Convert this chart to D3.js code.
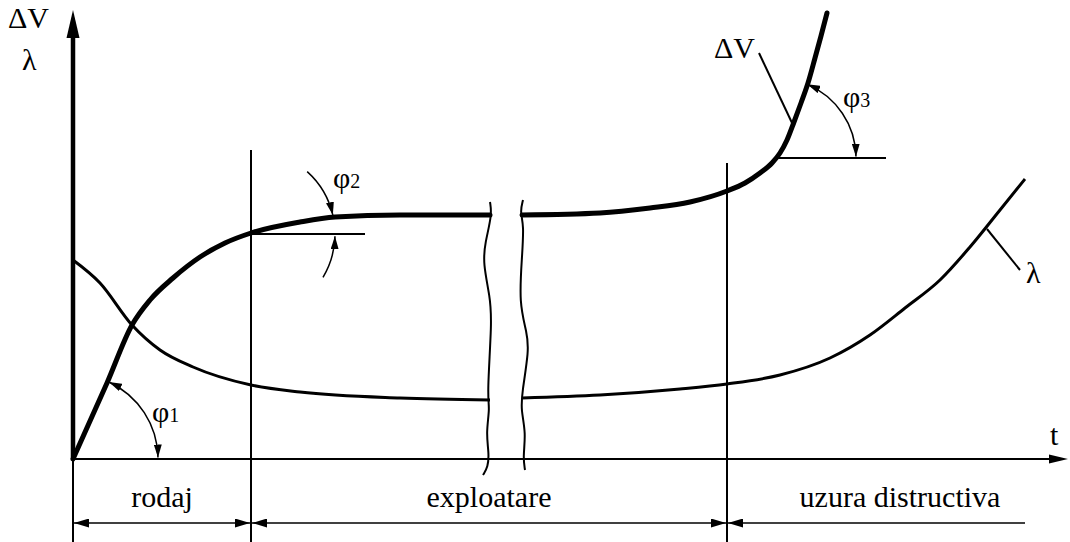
<!DOCTYPE html>
<html lang="ro">
<head>
  <meta charset="UTF-8">
  <title>Uzura in timp</title>
  <script src="https://d3js.org/d3.v7.min.js"></script>
  <style>
    body, html {
      margin: 0;
      padding: 0;
      background: #fff;
    }
    svg {
      display: block;
    }
    svg text {
      font-family: "Liberation Serif", "Tinos", "DejaVu Serif", "Times New Roman", serif;
      fill: #000;
    }
    .label {
      font-size: 30px;
    }
    .sub {
      font-size: 20px;
    }
  </style>
</head>
<body>
  <svg width="1070" height="542"></svg>

  <script>
    // curve ΔV (thick) before and after the break, [t, value]
    const dvEarly = [[0, 0], [34, 76], [59, 134], [77, 159], [100, 181], [127, 202], [152, 216],
                     [178, 226], [227, 237], [262, 242], [327, 244], [417, 244]];
    const dvLate = [[449, 244], [527, 246], [577, 251], [617, 257], [654, 268], [672, 276], [687, 286],
                    [699, 296], [707, 306], [714, 319], [721, 337], [728, 356], [735, 376],
                    [742, 401], [748, 423], [754, 446]];
    // curve λ (thin)
    const lambdaEarly = [[0, 199], [27, 176], [59, 134], [87, 109], [120, 92], [178, 74],
                         [227, 67], [327, 61], [417, 59]];
    const lambdaLate = [[449, 61], [527, 64], [607, 70], [654, 75], [707, 84], [757, 101], [797, 124],
                        [832, 151], [867, 179], [897, 212], [927, 249], [952, 280]];
    // broken-axis squiggles
    const breakLeft = [[417, 257], [419, 244], [412, 216], [410, 196], [417, 162], [419, 139],
                       [414, 62], [417, 52], [413, 26], [416, 6], [415, -8], [410, -16]];
    const breakRight = [[450, 259], [447, 247], [451, 234], [449, 202], [446, 156], [454, 126],
                        [456, 109], [449, 66], [448, 49], [453, 26], [450, 2], [452, -11]];
    // phases along t
    const phaseNames = ["rodaj", "exploatare", "uzura distructiva"];
    const phaseBounds = [0, 178, 654, 952];
    const phaseTops = [0, 309, 296];

    const width = 1070, height = 542;
    const svg = d3.select("svg");

    const x = d3.scaleLinear().domain([0, 1000]).range([73, 1073]);
    const y = d3.scaleLinear().domain([0, 450]).range([459, 9]);

    const defs = svg.append("defs");
    function marker(id, len, half) {
      defs.append("marker")
        .attr("id", id)
        .attr("markerUnits", "userSpaceOnUse")
        .attr("viewBox", `0 ${-half} ${len} ${half * 2}`)
        .attr("refX", len).attr("refY", 0)
        .attr("markerWidth", len).attr("markerHeight", half * 2)
        .attr("orient", "auto-start-reverse")
        .append("path")
        .attr("d", `M0,${-half}L${len},0L0,${half}Z`)
        .attr("fill", "#000");
    }
    marker("dim", 15, 4.5);
    marker("ang", 13, 4);

    const line = d3.line().x(d => x(d[0])).y(d => y(d[1])).curve(d3.curveMonotoneX);
    const wavy = d3.line().x(d => x(d[0])).y(d => y(d[1])).curve(d3.curveBasis);

    // phase boundary verticals
    svg.selectAll(".phase-line")
      .data(phaseBounds.slice(0, 3))
      .enter().append("line")
      .attr("x1", d => x(d)).attr("x2", d => x(d))
      .attr("y1", (d, i) => i === 0 ? y(0) : y(phaseTops[i]))
      .attr("y2", height)
      .attr("stroke", "#000").attr("stroke-width", 2);

    // t axis
    svg.append("line")
      .attr("x1", x(0)).attr("x2", 1052)
      .attr("y1", y(0)).attr("y2", y(0))
      .attr("stroke", "#000").attr("stroke-width", 2.2);
    svg.append("path")
      .attr("d", `M1068,${y(0)}L1049,${y(0) - 4.5}L1049,${y(0) + 4.5}Z`)
      .attr("fill", "#000");

    // vertical axis
    svg.append("line")
      .attr("x1", x(0)).attr("x2", x(0))
      .attr("y1", y(0)).attr("y2", 34)
      .attr("stroke", "#000").attr("stroke-width", 4.5);
    svg.append("path")
      .attr("d", `M${x(0)},10L${x(0) - 6.5},38L${x(0) + 6.5},38Z`)
      .attr("fill", "#000");

    // curves
    [lambdaEarly, lambdaLate].forEach(s => svg.append("path")
      .attr("d", line(s)).attr("fill", "none")
      .attr("stroke", "#000").attr("stroke-width", 3));
    [dvEarly, dvLate].forEach(s => svg.append("path")
      .attr("d", line(s)).attr("fill", "none")
      .attr("stroke", "#000").attr("stroke-width", 5)
      .attr("stroke-linecap", "round"));

    // break marks
    [breakLeft, breakRight].forEach(s => svg.append("path")
      .attr("d", wavy(s)).attr("fill", "none")
      .attr("stroke", "#000").attr("stroke-width", 2));

    // angle references
    function arcPath(cx, cy, r, a0, a1, ccw) {
      const p = d3.path();
      p.arc(cx, cy, r, a0, a1, ccw);
      return p.toString();
    }
    const deg = Math.PI / 180;

    // φ1 at the origin
    svg.append("path")
      .attr("d", arcPath(x(0), y(0), 85, -65 * deg, -1 * deg, false))
      .attr("fill", "none").attr("stroke", "#000").attr("stroke-width", 1.5)
      .attr("marker-start", "url(#ang)").attr("marker-end", "url(#ang)");

    // φ2 at the end of rodaj
    const c2 = [x(178), y(226) + 1];
    svg.append("line")
      .attr("x1", c2[0]).attr("x2", 365).attr("y1", c2[1]).attr("y2", c2[1])
      .attr("stroke", "#000").attr("stroke-width", 2);
    svg.append("path")
      .attr("d", arcPath(c2[0], c2[1], 84, -48 * deg, -13 * deg, false))
      .attr("fill", "none").attr("stroke", "#000").attr("stroke-width", 1.5)
      .attr("marker-end", "url(#ang)");
    svg.append("path")
      .attr("d", arcPath(c2[0], c2[1], 84, 31 * deg, 1.5 * deg, true))
      .attr("fill", "none").attr("stroke", "#000").attr("stroke-width", 1.5)
      .attr("marker-end", "url(#ang)");

    // φ3 on the steep rise
    const c3 = [x(703), y(301)];
    svg.append("line")
      .attr("x1", c3[0]).attr("x2", 886).attr("y1", c3[1]).attr("y2", c3[1])
      .attr("stroke", "#000").attr("stroke-width", 2);
    svg.append("path")
      .attr("d", arcPath(c3[0], c3[1], 80, -67 * deg, -1 * deg, false))
      .attr("fill", "none").attr("stroke", "#000").attr("stroke-width", 1.5)
      .attr("marker-start", "url(#ang)").attr("marker-end", "url(#ang)");

    // leaders for curve names
    svg.append("line")
      .attr("x1", 759).attr("y1", 53).attr("x2", x(720)).attr("y2", y(334))
      .attr("stroke", "#000").attr("stroke-width", 2);
    svg.append("line")
      .attr("x1", x(914)).attr("y1", y(230)).attr("x2", 1020).attr("y2", 270)
      .attr("stroke", "#000").attr("stroke-width", 2);

    // phase dimension arrows
    const dimY = 523;
    svg.selectAll(".dim")
      .data(phaseNames)
      .enter().append("line")
      .attr("x1", (d, i) => x(phaseBounds[i]) + 1)
      .attr("x2", (d, i) => x(phaseBounds[i + 1]) - (i < 2 ? 1 : 0))
      .attr("y1", dimY).attr("y2", dimY)
      .attr("stroke", "#000").attr("stroke-width", 1.5)
      .attr("marker-start", "url(#dim)")
      .attr("marker-end", (d, i) => i < 2 ? "url(#dim)" : null);

    const labelX = [x(89), x(416), x(827)];
    svg.selectAll(".phase-label")
      .data(phaseNames)
      .enter().append("text")
      .attr("class", "label")
      .attr("x", (d, i) => labelX[i])
      .attr("y", 507)
      .attr("text-anchor", "middle")
      .text(d => d);

    // axis names
    svg.append("text").attr("class", "label").attr("x", 8).attr("y", 28).text("ΔV");
    svg.append("text").attr("class", "label").attr("x", 22).attr("y", 70).text("λ");
    svg.append("text").attr("class", "label").attr("x", 1050).attr("y", 445).text("t");

    // curve names
    svg.append("text").attr("class", "label").attr("x", 714).attr("y", 58).text("ΔV");
    svg.append("text").attr("class", "label").attr("x", 1026).attr("y", 283).text("λ");

    // angle names
    const phiLabels = [["1", 152, 422], ["2", 333, 188], ["3", 843, 107]];
    phiLabels.forEach(([s, px, py]) => {
      const t = svg.append("text").attr("class", "label").attr("x", px).attr("y", py);
      t.append("tspan").text("φ");
      t.append("tspan").attr("class", "sub").text(s);
    });
  </script>
</body>
</html>
